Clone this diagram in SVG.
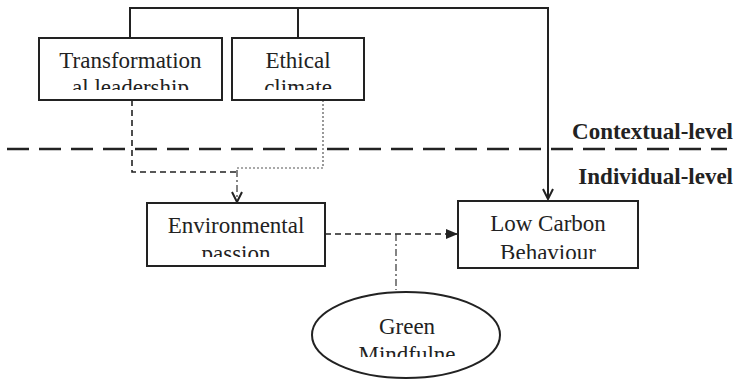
<svg xmlns="http://www.w3.org/2000/svg" width="735" height="379" viewBox="0 0 735 379">
<style>
.box{fill:#fff;stroke:#222;stroke-width:2}
.t{font-family:"Liberation Serif","Times New Roman",serif;font-size:23px;fill:#222;text-anchor:middle}
.lvl{font-family:"Liberation Serif","Times New Roman",serif;font-size:23px;font-weight:bold;fill:#222;text-anchor:end}
.solid{fill:none;stroke:#222;stroke-width:2}
.dash{fill:none;stroke:#222;stroke-width:1.6;stroke-dasharray:6 4}
.dot{fill:none;stroke:#555;stroke-width:1.2;stroke-dasharray:2 2}
.dashdot{fill:none;stroke:#333;stroke-width:1.2;stroke-dasharray:7 3 2 3}
</style>
<defs>
<marker id="open" viewBox="0 0 12 12" refX="11" refY="6" markerWidth="12" markerHeight="12" markerUnits="userSpaceOnUse" orient="auto">
<path d="M1,1 L11,6 L1,11" fill="none" stroke="#222" stroke-width="2"/>
</marker>
<marker id="fill" viewBox="0 0 12 12" refX="11" refY="6" markerWidth="12" markerHeight="12" markerUnits="userSpaceOnUse" orient="auto">
<path d="M0,1 L12,6 L0,11 Z" fill="#222"/>
</marker>
<clipPath id="c1"><rect x="39" y="38" width="183" height="52"/></clipPath>
<clipPath id="c2"><rect x="232" y="38" width="132" height="52"/></clipPath>
<clipPath id="c3"><rect x="147" y="203" width="178" height="54"/></clipPath>
<clipPath id="c4"><rect x="458" y="201" width="180" height="58"/></clipPath>
<clipPath id="c5"><rect x="312" y="292" width="188" height="65"/></clipPath>
</defs>
<line x1="7" y1="149" x2="727" y2="149" stroke="#222" stroke-width="2.6" stroke-dasharray="22 10"/>
<text class="lvl" x="733" y="139">Contextual-level</text>
<text class="lvl" x="733" y="184">Individual-level</text>
<g id="connectors">
<path class="solid" d="M130,38 V8 H548 V199" marker-end="url(#open)"/>
<path class="solid" d="M298,8 V38"/>
<path class="dash" d="M132,100 V172 H237"/>
<path class="dot" d="M323,100 V168 H237"/>
<path class="dashdot" d="M237,170 V202" marker-end="url(#open)"/>
<path class="dash" d="M325,234 H457" marker-end="url(#fill)"/>
<path class="dashdot" d="M396,234 V290"/>
</g>
<g id="transformational">
<rect class="box" x="39" y="38" width="183" height="62"/>
<g clip-path="url(#c1)"><text class="t" x="130.5" y="68">Transformation</text><text class="t" x="130.5" y="95">al leadership</text></g>
</g>
<g id="ethical">
<rect class="box" x="232" y="38" width="132" height="62"/>
<g clip-path="url(#c2)"><text class="t" x="298" y="68">Ethical</text><text class="t" x="298" y="95">climate</text></g>
</g>
<g id="environmental">
<rect class="box" x="147" y="203" width="178" height="63"/>
<g clip-path="url(#c3)"><text class="t" x="236" y="233">Environmental</text><text class="t" x="236" y="261">passion</text></g>
</g>
<g id="lowcarbon">
<rect class="box" x="458" y="201" width="180" height="67"/>
<g clip-path="url(#c4)"><text class="t" x="548" y="231">Low Carbon</text><text class="t" x="548" y="260">Behaviour</text></g>
</g>
<g id="green">
<ellipse class="box" cx="406" cy="335" rx="94" ry="43"/>
<g clip-path="url(#c5)"><text class="t" x="407" y="334">Green</text><text class="t" x="407" y="362">Mindfulne</text></g>
</g>
</svg>
